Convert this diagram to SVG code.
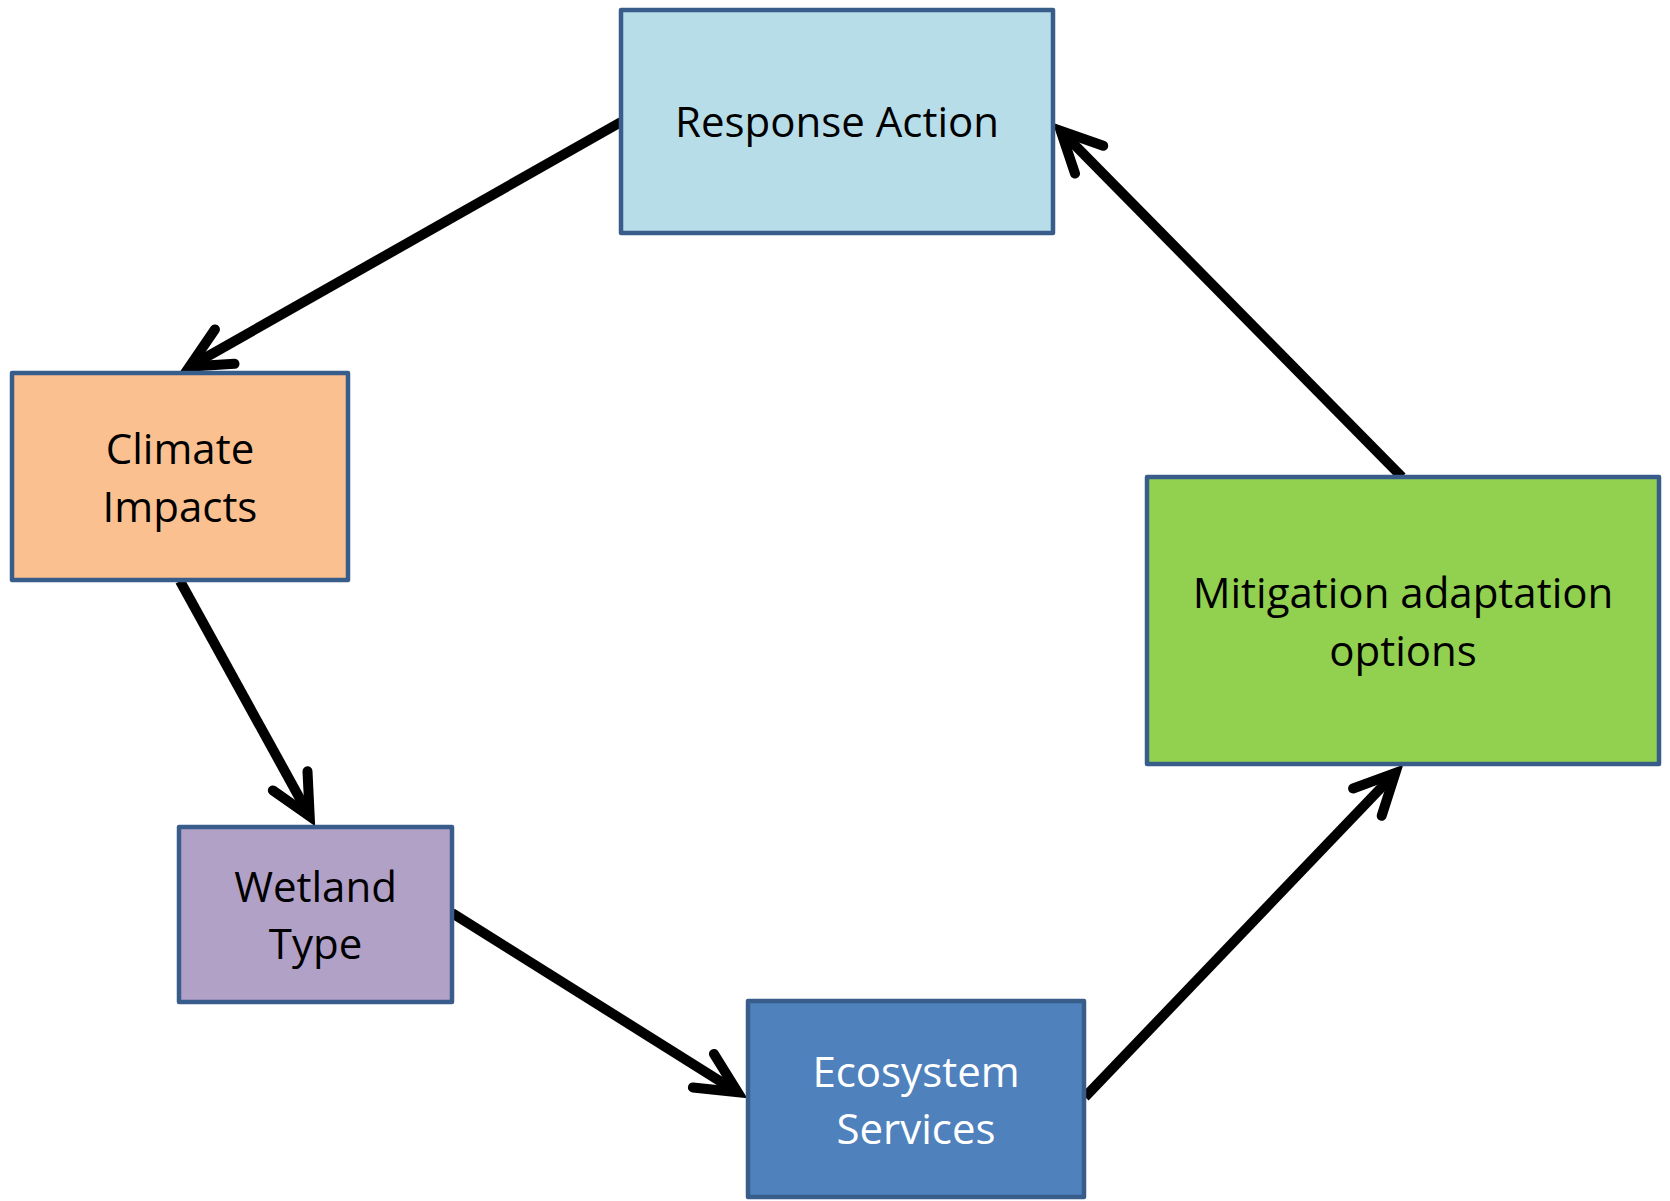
<svg xmlns="http://www.w3.org/2000/svg" width="1670" height="1201" viewBox="0 0 1670 1201">
<style>
.box{stroke:#385D8A;stroke-width:4.5;stroke-linejoin:round}
.lbl{font-family:"Open Sans","Liberation Sans",sans-serif;font-size:42px;text-anchor:middle;fill:#000}
.wht{fill:#fff}
.con{stroke:#000;stroke-width:10;fill:none;marker-end:url(#arr)}
</style>
<defs>
<marker id="arr" markerUnits="userSpaceOnUse" markerWidth="80" markerHeight="80" viewBox="-60 -40 80 80" refX="0" refY="0" orient="auto" overflow="visible">
<path d="M-40.5,-19.8 L0,0 L-40.5,19.8" fill="none" stroke="#000" stroke-width="10" stroke-linecap="round" stroke-linejoin="miter" stroke-miterlimit="10"/>
</marker>
</defs>
<rect width="1670" height="1201" fill="#fff"/>
<g id="connectors">
<line class="con" x1="621" y1="122" x2="189.5" y2="366.6"/>
<line class="con" x1="1402" y1="477" x2="1060.7" y2="130.8"/>
<line class="con" x1="180" y1="581" x2="309.7" y2="816.3"/>
<line class="con" x1="452" y1="913" x2="737.7" y2="1092.2"/>
<line class="con" x1="1085" y1="1097" x2="1395.4" y2="772.9"/>
</g>
<g id="response-action">
<rect class="box" x="621" y="10" width="432" height="223" fill="#B7DDE8"/>
<text class="lbl" x="837" y="137">Response Action</text>
</g>
<g id="climate-impacts">
<rect class="box" x="12" y="373" width="336" height="207" fill="#FAC090"/>
<text class="lbl" x="180" y="464">Climate</text>
<text class="lbl" x="180" y="522">Impacts</text>
</g>
<g id="wetland-type">
<rect class="box" x="179" y="827" width="273" height="175" fill="#B2A1C7"/>
<text class="lbl" x="315.5" y="902">Wetland</text>
<text class="lbl" x="315.5" y="959">Type</text>
</g>
<g id="ecosystem-services">
<rect class="box" x="748" y="1001" width="336" height="196" fill="#4F81BD"/>
<text class="lbl wht" x="916" y="1087">Ecosystem</text>
<text class="lbl wht" x="916" y="1144">Services</text>
</g>
<g id="mitigation-adaptation">
<rect class="box" x="1147" y="477" width="512" height="287" fill="#92D050"/>
<text class="lbl" x="1403" y="608">Mitigation adaptation</text>
<text class="lbl" x="1403" y="666">options</text>
</g>
</svg>
